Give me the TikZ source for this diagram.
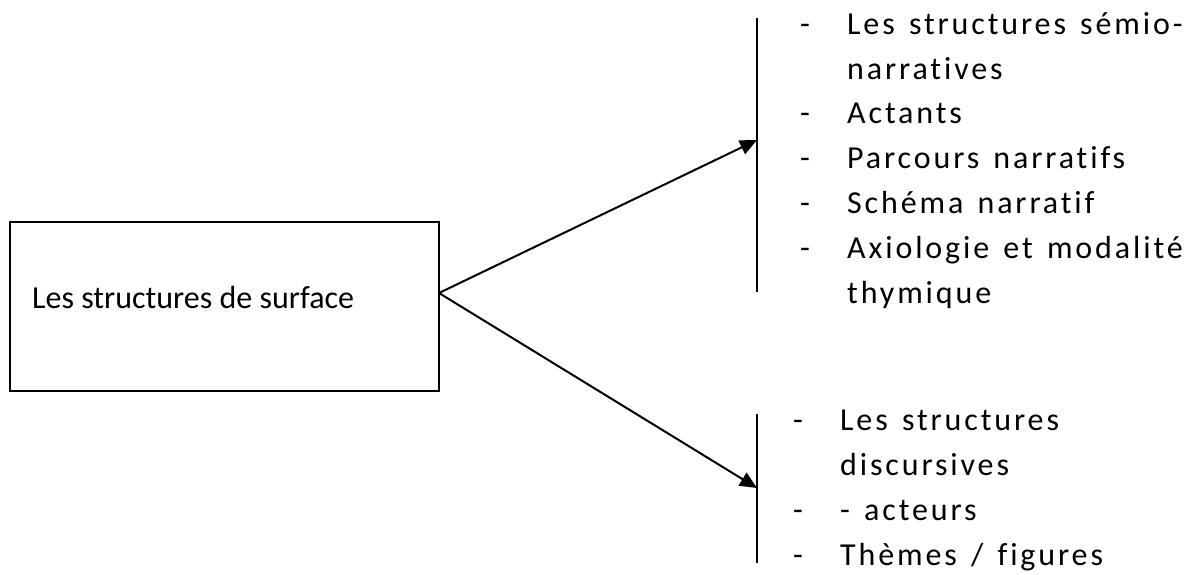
\documentclass[tikz,border=0pt]{standalone}
\usepackage{fontspec}
\setmainfont{Carlito}[Ligatures=NoCommon]
\newfontfamily\spaced[LetterSpace=9,WordSpace=1.4,Ligatures=NoCommon]{Carlito}
\usetikzlibrary{arrows.meta}
\begin{document}
\begin{tikzpicture}[x=1pt,y=-1pt,
  boxstyle/.style={draw, line width=1.6pt, minimum width=429pt, minimum height=169pt, inner sep=0pt},
  plain/.style={anchor=base west, inner sep=0pt, font=\fontsize{32}{32}\selectfont},
  itemtxt/.style={anchor=base west, inner sep=0pt, font=\spaced\fontsize{32}{32}\selectfont},
  bar/.style={line width=2pt},
  conn/.style={line width=2pt, -{Triangle[length=17pt,width=15pt]}}]
\useasboundingbox (0,0) rectangle (1191,574);
\node[boxstyle] (box) at (224.5,306.5) {};
\node[plain] (boxlbl) at (32,308) {Les structures de surface};
\coordinate (src) at (439,293);
% first bar
\coordinate (b1top) at (757,18);
\coordinate (b1bot) at (757,292);
\coordinate (t1) at (757,140);
\draw[bar] (b1top) -- (b1bot);
% second bar
\coordinate (b2top) at (757,414);
\coordinate (b2bot) at (757,563);
\coordinate (t2) at (757,488);
\draw[bar] (b2top) -- (b2bot);
\draw[conn] (src) -- (t1);
\draw[conn] (src) -- (t2);
% list 1
\node[itemtxt] (d1) at (800,34) {-};
\node[itemtxt] (i1) at (847,34) {Les structures sémio-};
\node[itemtxt] (i1b) at (847,79) {narratives};
\node[itemtxt] (d2) at (800,123) {-};
\node[itemtxt] (i2) at (847,123) {Actants};
\node[itemtxt] (d3) at (800,168) {-};
\node[itemtxt] (i3) at (847,168) {Parcours narratifs};
\node[itemtxt] (d4) at (800,213) {-};
\node[itemtxt] (i4) at (847,213) {Schéma narratif};
\node[itemtxt] (d5) at (800,258) {-};
\node[itemtxt] (i5) at (847,258) {Axiologie et modalité};
\node[itemtxt] (i5b) at (847,303) {thymique};
% list 2
\node[itemtxt] (e1) at (793,430) {-};
\node[itemtxt] (j1) at (840,430) {Les structures};
\node[itemtxt] (j1b) at (840,475) {discursives};
\node[itemtxt] (e2) at (793,520) {-};
\node[itemtxt] (j2) at (840,520) {- acteurs};
\node[itemtxt] (e3) at (793,565) {-};
\node[itemtxt] (j3) at (840,565) {Thèmes / figures};
\end{tikzpicture}
\end{document}
